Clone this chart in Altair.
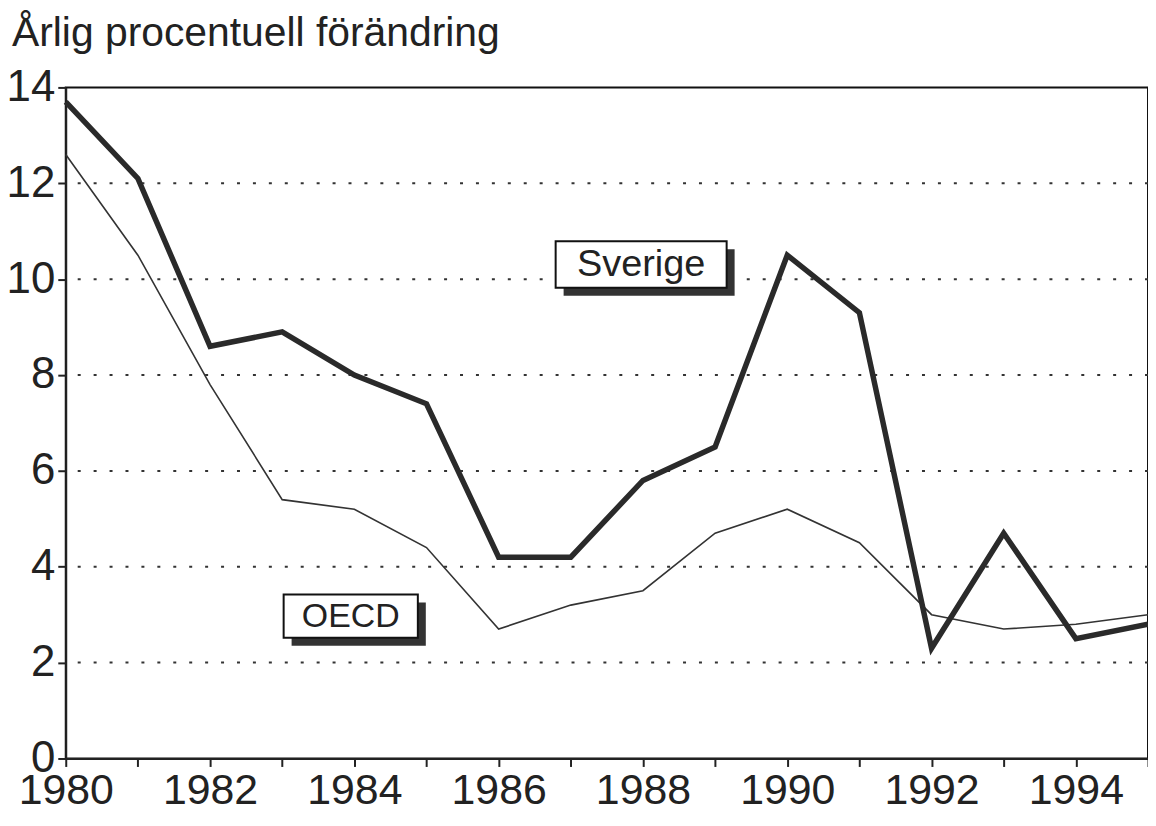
import altair as alt
import pandas as pd

years = list(range(1980, 1996))
sverige = [13.7, 12.1, 8.6, 8.9, 8.0, 7.4, 4.2, 4.2, 5.8, 6.5, 10.5, 9.3, 2.3, 4.7, 2.5, 2.8]
oecd = [12.6, 10.5, 7.8, 5.4, 5.2, 4.4, 2.7, 3.2, 3.5, 4.7, 5.2, 4.5, 3.0, 2.7, 2.8, 3.0]
y_ticks = [0, 2, 4, 6, 8, 10, 12, 14]
grid_values = [2, 4, 6, 8, 10, 12]

title_text = "Årlig procentuell förändring"
label_names = ["Sverige", "OECD"]
label_x1 = [1986.79, 1983.02]
label_x2 = [1989.16, 1984.88]
label_y1 = [9.82, 2.52]
label_y2 = [10.79, 3.42]
label_size = [38, 34]

FONT = "Liberation Sans"
INK = "#222"

df = pd.DataFrame({
    "year": years * 2,
    "value": sverige + oecd,
    "series": ["Sverige"] * len(years) + ["OECD"] * len(years),
})
labels = pd.DataFrame({
    "name": label_names, "x1": label_x1, "x2": label_x2,
    "y1": label_y1, "y2": label_y2, "size": label_size,
})
labels["xm"] = (labels["x1"] + labels["x2"]) / 2
labels["ym"] = (labels["y1"] + labels["y2"]) / 2

xscale = alt.Scale(domain=[1980, 1995], nice=False, zero=False)
yscale = alt.Scale(domain=[0, 14], nice=False)

xaxis = alt.Axis(values=years, format="d",
                 labelExpr="datum.value % 2 == 0 && datum.value < 1995 ? datum.label : ''",
                 title=None, grid=False, tickSize=8, tickColor=INK, tickWidth=2,
                 labelFont=FONT, labelFontSize=43, labelColor=INK, labelPadding=3,
                 domainColor=INK, domainWidth=2, labelFlush=False)
yaxis = alt.Axis(values=y_ticks, title=None, grid=False,
                 tickSize=8, tickColor=INK, tickWidth=2,
                 labelFont=FONT, labelFontSize=44, labelColor=INK, labelPadding=3,
                 domainColor=INK, domainWidth=2)

grid = alt.Chart(pd.DataFrame({"g": grid_values})).mark_rule(
    color="#333", strokeWidth=2, strokeDash=[3, 13]).encode(
    y=alt.Y("g:Q", scale=yscale, axis=yaxis))

base = alt.Chart(df)
oecd_line = base.transform_filter(alt.datum.series == "OECD").mark_line(
    color="#333", strokeWidth=1.6).encode(
    x=alt.X("year:Q", scale=xscale, axis=xaxis),
    y=alt.Y("value:Q", scale=yscale),
)
sv_line = base.transform_filter(alt.datum.series == "Sverige").mark_line(
    color="#2a2a2a", strokeWidth=5.5).encode(
    x=alt.X("year:Q", scale=xscale),
    y=alt.Y("value:Q", scale=yscale),
)

lab = alt.Chart(labels)
shadow = lab.mark_rect(color="#333", xOffset=8, x2Offset=8, yOffset=8, y2Offset=8).encode(
    x=alt.X("x1:Q", scale=xscale), x2="x2:Q",
    y=alt.Y("y1:Q", scale=yscale), y2="y2:Q",
)
box = lab.mark_rect(fill="white", stroke="#111", strokeWidth=2).encode(
    x=alt.X("x1:Q", scale=xscale), x2="x2:Q",
    y=alt.Y("y1:Q", scale=yscale), y2="y2:Q",
)
txt = lab.mark_text(font=FONT, color=INK, baseline="middle", align="center", dy=1).encode(
    x=alt.X("xm:Q", scale=xscale),
    y=alt.Y("ym:Q", scale=yscale),
    text="name:N",
    size=alt.Size("size:Q", scale=None, legend=None),
)

title = alt.Chart(pd.DataFrame({"t": [title_text]})).mark_text(
    font=FONT, fontSize=41, color=INK, align="left", baseline="top").encode(
    x=alt.value(-54), y=alt.value(-74), text="t:N")

chart = alt.layer(grid, oecd_line, sv_line, shadow, box, txt, title).properties(
    width=1087, height=674,
    background="white",
    autosize=alt.AutoSizeParams(type="none"),
    padding={"left": 58, "top": 78, "right": 0, "bottom": 55},
).configure_view(stroke="#111", strokeWidth=2)

chart.save("out.html", embed_options={"renderer": "svg", "actions": False})
